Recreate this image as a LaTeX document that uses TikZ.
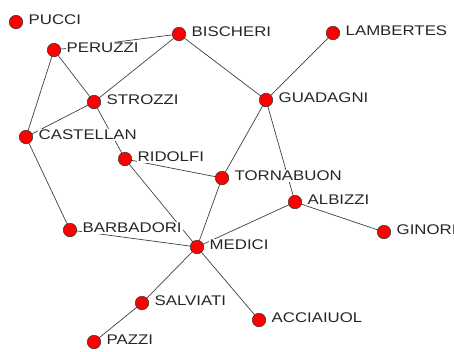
\documentclass[tikz,border=0pt]{standalone}
\usepackage{fontspec}
\setmainfont[FakeStretch=1.2]{Liberation Sans}
\pgfdeclarelayer{edges}
\pgfdeclarelayer{labels}
\pgfsetlayers{edges,labels,main}
\tikzset{
  fam/.style={circle,fill=red,draw=black!80,line width=0.5pt,minimum size=13.5pt,inner sep=0pt},
  lab/.style={anchor=west,fill=white,inner sep=1pt,text=black!85,font=\fontsize{14pt}{16pt}\selectfont},
  tie/.style={draw=black!75,line width=0.7pt}
}
\newcommand{\famlabel}[2]{\begin{pgfonlayer}{labels}\node[lab] (#1L) at ([xshift=11.5pt,yshift=2pt]#1.center) {#2};\end{pgfonlayer}}
\begin{document}
\begin{tikzpicture}[x=1pt,y=-1pt]
\useasboundingbox (0,0) rectangle (454,351);
\node[fam] (puc) at (16,22) {};
\node[fam] (per) at (54,50) {};
\node[fam] (bis) at (179,34) {};
\node[fam] (str) at (94,102) {};
\node[fam] (cas) at (26,137) {};
\node[fam] (rid) at (125,159) {};
\node[fam] (lam) at (333,33) {};
\node[fam] (gua) at (266,100) {};
\node[fam] (tor) at (222,178) {};
\node[fam] (alb) at (295,202) {};
\node[fam] (gin) at (384,232) {};
\node[fam] (bar) at (70,230) {};
\node[fam] (med) at (197,247) {};
\node[fam] (sal) at (142,303) {};
\node[fam] (paz) at (94,342) {};
\node[fam] (acc) at (259,320) {};
\famlabel{puc}{PUCCI}
\famlabel{per}{PERUZZI}
\famlabel{bis}{BISCHERI}
\famlabel{str}{STROZZI}
\famlabel{cas}{CASTELLAN}
\famlabel{rid}{RIDOLFI}
\famlabel{lam}{LAMBERTES}
\famlabel{gua}{GUADAGNI}
\famlabel{tor}{TORNABUON}
\famlabel{alb}{ALBIZZI}
\famlabel{gin}{GINORI}
\famlabel{bar}{BARBADORI}
\famlabel{med}{MEDICI}
\famlabel{sal}{SALVIATI}
\famlabel{paz}{PAZZI}
\famlabel{acc}{ACCIAIUOL}
\begin{pgfonlayer}{edges}
\foreach \a/\b in {per/bis,per/str,per/cas,bis/str,bis/gua,str/cas,str/rid,cas/bar,
  rid/tor,rid/med,lam/gua,gua/tor,gua/alb,tor/med,alb/med,alb/gin,bar/med,
  med/sal,med/acc,sal/paz}
  \draw[tie] (\a.center) -- (\b.center);
\end{pgfonlayer}
\end{tikzpicture}
\end{document}
